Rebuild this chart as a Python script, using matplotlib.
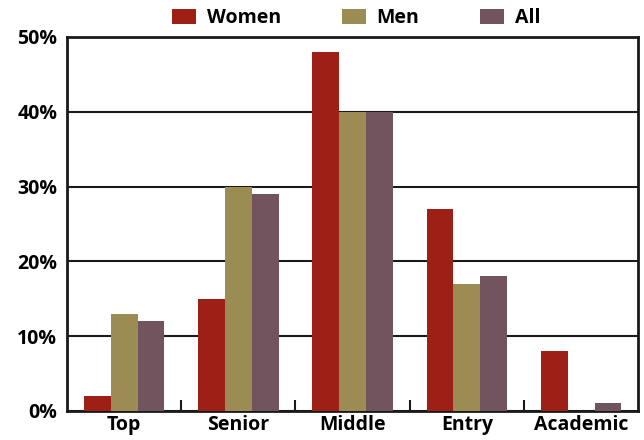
import numpy as np
import matplotlib.pyplot as plt

categories = ["Top", "Senior", "Middle", "Entry", "Academic"]
women = [2, 15, 48, 27, 8]
men = [13, 30, 40, 17, 0]
everyone = [12, 29, 40, 18, 1]

series = [("Women", women, "#9e1f15"), ("Men", men, "#9a8c52"), ("All", everyone, "#72545e")]

plt.rcParams['font.family'] = ['Open Sans', 'DejaVu Sans']
plt.rcParams['font.weight'] = 'bold'

fig = plt.figure(figsize=(6.44, 4.4), dpi=100)
ax = fig.add_axes([0.104, 0.066, 0.887, 0.850])

x = np.arange(len(categories))
w = 0.235
for i, (name, vals, col) in enumerate(series):
    ax.bar(x + (i - 1) * w, vals, w, color=col, label=name, zorder=3)

ax.set_xlim(-0.5, len(categories) - 0.5)
ax.set_ylim(0, 50)
ax.set_yticks(range(0, 51, 10))
ax.set_yticklabels([f"{v}%" for v in range(0, 51, 10)], fontsize=14, fontweight='bold')
ax.yaxis.grid(True, color='#1a1a1a', linewidth=1.5, zorder=1)
ax.tick_params(axis='y', length=0, pad=7)

ax.set_xticks(x)
ax.set_xticklabels(categories, fontsize=14, fontweight='bold')
ax.tick_params(axis='x', length=0, pad=3)
ax.set_xticks(x[:-1] + 0.5, minor=True)
ax.tick_params(axis='x', which='minor', direction='in', length=8, width=1.5, color='#1a1a1a')

for s in ax.spines.values():
    s.set_linewidth(2)
    s.set_color('#1a1a1a')

fig.legend(loc='center', bbox_to_anchor=(0.553, 0.959), ncol=3, frameon=False,
           handlelength=1.25, handleheight=0.8, handletextpad=0.55, columnspacing=3.1,
           prop={'weight': 'bold', 'size': 14})

fig.savefig("out.png", dpi=100)
